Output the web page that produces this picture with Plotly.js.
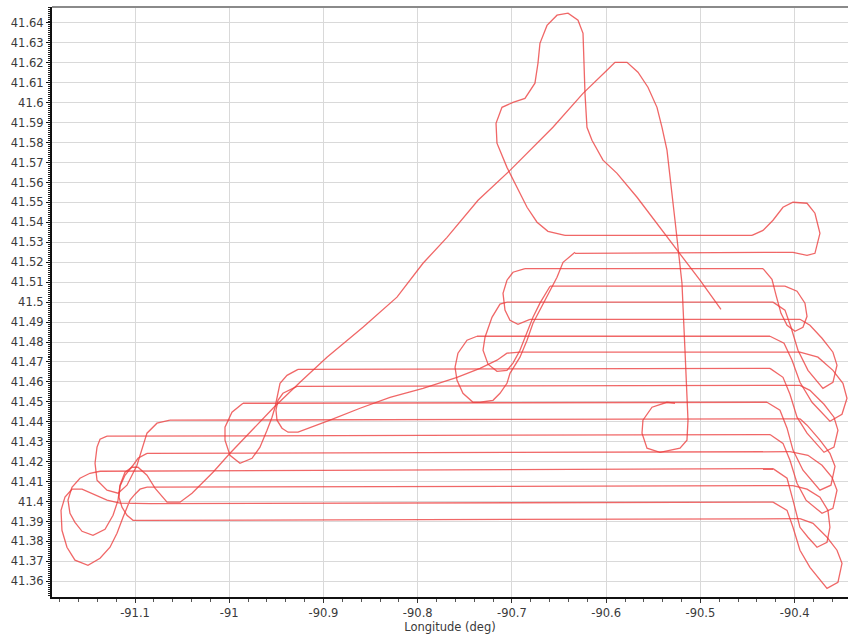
<!DOCTYPE html>
<html>
<head>
<meta charset="utf-8">
<script src="https://cdn.plot.ly/plotly-3.0.1.min.js"></script>
<style>html,body{margin:0;padding:0;background:#fff;}#chart{width:848px;height:637px;}</style>
</head>
<body>
<div id="chart"></div>
<script>
// Survey lines (latitude at west / east end, longitude at west / east end)
const lineLatW = [41.5335,41.5245,41.5168,41.5080,41.5000,41.4914,41.4829,41.4749,41.4663,41.4578,41.4493,41.4408,41.4328,41.4242,41.4152,41.4072,41.3990,41.3906];
const lineLatE = [41.5335,41.5250,41.5168,41.5080,41.5000,41.4914,41.4829,41.4749,41.4668,41.4583,41.4498,41.4415,41.4336,41.4250,41.4165,41.4080,41.3997,41.3914];
const lineLonW = [-90.6437,-90.6331,-90.6862,-90.6596,-90.7053,-90.6809,-90.7371,-90.6915,-90.9270,-90.9281,-90.9854,-91.0629,-91.1297,-91.0873,-91.1371,-91.0873,-91.0841,-91.0894];
const lineLonE = [-90.4453,-90.4188,-90.4336,-90.4103,-90.4230,-90.3944,-90.4262,-90.3944,-90.4262,-90.3944,-90.4294,-90.3944,-90.4262,-90.4050,-90.4230,-90.4018,-90.4230,-90.3944];

// Turns at the east end
const turnR1 = [[-90.4453,41.5335],[-90.4336,41.5360],[-90.4230,41.5411],[-90.4124,41.5476],[-90.4018,41.5501],[-90.3869,41.5496],[-90.3785,41.5446],[-90.3732,41.5345],[-90.3785,41.5245],[-90.3869,41.5235],[-90.4018,41.5250],[-90.4188,41.5250]];
const turnR2 = [[-90.4336,41.5168],[-90.4241,41.5115],[-90.4198,41.5035],[-90.4145,41.4944],[-90.4081,41.4884],[-90.3997,41.4854],[-90.3912,41.4874],[-90.3869,41.4929],[-90.3891,41.4995],[-90.3975,41.5055],[-90.4103,41.5080]];
const turnR3 = [[-90.4230,41.5000],[-90.4103,41.4960],[-90.4039,41.4874],[-90.3965,41.4759],[-90.3859,41.4658],[-90.3700,41.4568],[-90.3594,41.4598],[-90.3551,41.4684],[-90.3594,41.4749],[-90.3710,41.4819],[-90.3838,41.4884],[-90.3944,41.4914]];
const turnR4 = [[-90.4262,41.4829],[-90.4113,41.4794],[-90.4028,41.4709],[-90.3944,41.4598],[-90.3816,41.4498],[-90.3626,41.4403],[-90.3498,41.4438],[-90.3445,41.4518],[-90.3488,41.4593],[-90.3594,41.4658],[-90.3753,41.4724],[-90.3944,41.4749]];
const turnR5 = [[-90.4262,41.4668],[-90.4124,41.4623],[-90.4050,41.4538],[-90.3975,41.4423],[-90.3869,41.4343],[-90.3689,41.4247],[-90.3583,41.4273],[-90.3541,41.4358],[-90.3583,41.4423],[-90.3689,41.4488],[-90.3838,41.4558],[-90.3944,41.4583]];
const turnR6 = [[-90.4294,41.4498],[-90.4156,41.4458],[-90.4081,41.4368],[-90.4018,41.4258],[-90.3912,41.4157],[-90.3732,41.4057],[-90.3615,41.4082],[-90.3572,41.4177],[-90.3626,41.4242],[-90.3732,41.4308],[-90.3869,41.4383],[-90.3944,41.4415]];
const turnR7 = [[-90.4262,41.4336],[-90.4124,41.4292],[-90.4050,41.4207],[-90.3975,41.4092],[-90.3880,41.4007],[-90.3710,41.3941],[-90.3594,41.3966],[-90.3551,41.4057],[-90.3604,41.4122],[-90.3710,41.4182],[-90.3859,41.4232],[-90.4050,41.4250]];
const turnR8 = [[-90.4230,41.4165],[-90.4081,41.4117],[-90.4018,41.4007],[-90.3944,41.3871],[-90.3859,41.3821],[-90.3763,41.3771],[-90.3657,41.3796],[-90.3626,41.3871],[-90.3647,41.3956],[-90.3732,41.4022],[-90.3869,41.4062],[-90.4018,41.4080]];
const turnR9 = [[-90.4230,41.3997],[-90.4081,41.3956],[-90.4018,41.3871],[-90.3944,41.3756],[-90.3838,41.3670],[-90.3657,41.3565],[-90.3541,41.3595],[-90.3498,41.3690],[-90.3551,41.3756],[-90.3657,41.3821],[-90.3805,41.3891],[-90.3944,41.3914]];

// Turns at the west end
const turnTop = [[-90.6437,41.5335],[-90.6618,41.5355],[-90.6734,41.5401],[-90.6840,41.5476],[-90.6915,41.5546],[-90.7053,41.5676],[-90.7159,41.5797],[-90.7169,41.5897],[-90.7106,41.5977],[-90.6989,41.6002],[-90.6862,41.6022],[-90.6756,41.6098],[-90.6724,41.6198],[-90.6703,41.6298],[-90.6628,41.6388],[-90.6522,41.6439],[-90.6405,41.6449],[-90.6299,41.6414],[-90.6246,41.6348],[-90.6236,41.6178],[-90.6225,41.6047],[-90.6204,41.5877],[-90.6151,41.5812],[-90.6034,41.5712],[-90.5885,41.5646],[-90.5673,41.5526],[-90.5429,41.5375],[-90.5238,41.5260],[-90.5005,41.5110],[-90.4782,41.4964]];
const turnM1 = [[-90.9854,41.4493],[-90.9971,41.4448],[-91.0045,41.4373],[-91.0045,41.4308],[-90.9992,41.4232],[-90.9886,41.4192],[-90.9758,41.4217],[-90.9674,41.4273],[-90.9599,41.4358],[-90.9546,41.4423],[-90.9514,41.4473],[-90.9493,41.4523],[-90.9461,41.4593],[-90.9387,41.4633],[-90.9270,41.4663]];
const turnM2 = [[-90.9281,41.4578],[-90.9430,41.4543],[-90.9483,41.4508],[-90.9504,41.4458],[-90.9493,41.4408],[-90.9440,41.4368],[-90.9376,41.4348],[-90.9270,41.4348],[-90.8931,41.4408],[-90.8612,41.4468],[-90.8294,41.4523],[-90.7944,41.4568],[-90.7583,41.4623],[-90.7339,41.4668],[-90.7159,41.4709],[-90.7053,41.4744],[-90.6915,41.4749]];
const turnM3 = [[-90.6331,41.5250],[-90.6458,41.5200],[-90.6522,41.5125],[-90.6596,41.5060],[-90.6703,41.4960],[-90.6777,41.4894],[-90.6840,41.4809],[-90.6915,41.4724],[-90.7021,41.4643],[-90.7053,41.4593],[-90.7127,41.4543],[-90.7201,41.4508],[-90.7339,41.4498],[-90.7413,41.4498],[-90.7520,41.4543],[-90.7583,41.4608],[-90.7604,41.4673],[-90.7573,41.4744],[-90.7477,41.4809],[-90.7371,41.4829]];
const turnM4 = [[-90.6596,41.5080],[-90.6703,41.4995],[-90.6777,41.4924],[-90.6840,41.4844],[-90.6915,41.4759],[-90.6989,41.4694],[-90.7053,41.4658],[-90.7159,41.4653],[-90.7254,41.4689],[-90.7307,41.4759],[-90.7286,41.4824],[-90.7212,41.4924],[-90.7127,41.4990],[-90.7053,41.5000]];
const turnM5 = [[-90.6862,41.5168],[-90.6989,41.5150],[-90.7053,41.5110],[-90.7095,41.5045],[-90.7074,41.4960],[-90.7021,41.4909],[-90.6936,41.4889],[-90.6809,41.4914]];
const turnLL1 = [[-91.1297,41.4328],[-91.1371,41.4313],[-91.1403,41.4273],[-91.1424,41.4192],[-91.1403,41.4107],[-91.1297,41.4057],[-91.1180,41.4042],[-91.1085,41.4082],[-91.0979,41.4182],[-91.0873,41.4343],[-91.0767,41.4393],[-91.0629,41.4408]];
const turnLL3 = [[-91.0841,41.3990],[-91.1021,41.3992],[-91.1159,41.3992],[-91.1297,41.4007],[-91.1446,41.4037],[-91.1562,41.4062],[-91.1669,41.4062],[-91.1743,41.4022],[-91.1785,41.3956],[-91.1775,41.3856],[-91.1722,41.3771],[-91.1637,41.3706],[-91.1499,41.3680],[-91.1371,41.3716],[-91.1265,41.3771],[-91.1191,41.3841],[-91.1127,41.3921],[-91.1053,41.4007],[-91.1000,41.4037],[-91.0947,41.4062],[-91.0873,41.4072]];
const turnLL4 = [[-91.0873,41.4242],[-91.0968,41.4217],[-91.1021,41.4182],[-91.1106,41.4132],[-91.1159,41.4077],[-91.1170,41.4022],[-91.1138,41.3972],[-91.1085,41.3931],[-91.1021,41.3906],[-91.0894,41.3906]];

// Loop from the west end of line 14 and the long transit leg
const transit = [[-91.1371,41.4152],[-91.1478,41.4142],[-91.1584,41.4117],[-91.1669,41.4072],[-91.1711,41.4007],[-91.1690,41.3941],[-91.1637,41.3896],[-91.1562,41.3851],[-91.1446,41.3831],[-91.1318,41.3861],[-91.1233,41.3931],[-91.1180,41.4007],[-91.1159,41.4082],[-91.1106,41.4147],[-91.1032,41.4172],[-91.0968,41.4172],[-91.0873,41.4132],[-91.0788,41.4067],[-91.0660,41.3997],[-91.0522,41.3997],
 [-91.0395,41.4042],[-91.0172,41.4147],[-90.9992,41.4242],[-90.9780,41.4348],[-90.9536,41.4468],[-90.9249,41.4598],[-90.8963,41.4724],[-90.8581,41.4874],[-90.8220,41.5025],[-90.7944,41.5195],[-90.7689,41.5325],[-90.7360,41.5511],[-90.7021,41.5661],[-90.6565,41.5877],[-90.6246,41.6047],[-90.5992,41.6163],[-90.5907,41.6203],[-90.5779,41.6203],[-90.5663,41.6153],[-90.5557,41.6078],[-90.5461,41.5977],[-90.5408,41.5877],[-90.5355,41.5762],[-90.5270,41.5411],[-90.5238,41.5260],[-90.5196,41.5095],[-90.5164,41.4759],[-90.5132,41.4408],[-90.5143,41.4308],[-90.5217,41.4268],[-90.5429,41.4247],[-90.5567,41.4268],[-90.5620,41.4343],[-90.5610,41.4408],[-90.5514,41.4473],[-90.5355,41.4498],[-90.5270,41.4493]];

const xTickVals = [-91.1,-91.0,-90.9,-90.8,-90.7,-90.6,-90.5,-90.4];
const xTickText = ['-91.1','-91','-90.9','-90.8','-90.7','-90.6','-90.5','-90.4'];
const yTickVals = [41.36,41.37,41.38,41.39,41.40,41.41,41.42,41.43,41.44,41.45,41.46,41.47,41.48,41.49,41.50,41.51,41.52,41.53,41.54,41.55,41.56,41.57,41.58,41.59,41.60,41.61,41.62,41.63,41.64];
const yTickText = ['41.36','41.37','41.38','41.39','41.4','41.41','41.42','41.43','41.44','41.45','41.46','41.47','41.48','41.49','41.5','41.51','41.52','41.53','41.54','41.55','41.56','41.57','41.58','41.59','41.6','41.61','41.62','41.63','41.64'];

const xs = [], ys = [];
for (let i = 0; i < lineLatW.length; i++) {
  xs.push(lineLonW[i], lineLonE[i], null);
  ys.push(lineLatW[i], lineLatE[i], null);
}
[turnR1,turnR2,turnR3,turnR4,turnR5,turnR6,turnR7,turnR8,turnR9,turnTop,turnM1,turnM2,turnM3,turnM4,turnM5,turnLL1,turnLL3,turnLL4,transit].forEach(seg => {
  seg.forEach(p => { xs.push(p[0]); ys.push(p[1]); });
  xs.push(null); ys.push(null);
});

const font = {family: 'DejaVu Sans, Verdana, sans-serif', size: 11.5, color: '#3a3a3a'};
const data = [{
  type: 'scatter', mode: 'lines', x: xs, y: ys, connectgaps: false,
  line: {color: 'rgba(236,60,60,0.78)', width: 1.3}, hoverinfo: 'skip'
}];
const layout = {
  width: 848, height: 637,
  margin: {l: 52, r: 0, t: 7, b: 40, pad: 0},
  paper_bgcolor: '#fff', plot_bgcolor: '#fff',
  showlegend: false, font: font,
  xaxis: {
    range: [-91.18807, -90.34342], tickmode: 'array', tickvals: xTickVals, ticktext: xTickText,
    showgrid: true, gridcolor: '#d9d9d9', gridwidth: 1, zeroline: false,
    showline: true, linecolor: '#111', linewidth: 2,
    ticks: 'outside', ticklen: 4, tickcolor: '#333', tickwidth: 1,
    minor: {dtick: 0.02, tick0: -91.1, ticks: 'outside', ticklen: 3, tickcolor: '#555', showgrid: false},
    title: {text: 'Longitude (deg)', font: font, standoff: 4},
    tickfont: font, fixedrange: true
  },
  yaxis: {
    range: [41.35214, 41.64802], tickmode: 'array', tickvals: yTickVals, ticktext: yTickText,
    showgrid: true, gridcolor: '#d9d9d9', gridwidth: 1, zeroline: false,
    showline: true, linecolor: '#111', linewidth: 2,
    ticks: 'outside', ticklen: 4, tickcolor: '#111', tickwidth: 1,
    minor: {dtick: 0.001, tick0: 41.36, ticks: 'outside', ticklen: 2, tickcolor: '#222', showgrid: false},
    tickfont: font, fixedrange: true
  },
  shapes: [{type: 'line', xref: 'paper', yref: 'paper', x0: 0, x1: 1, y0: 1, y1: 1, line: {color: '#8a8a8a', width: 2}}]
};
Plotly.newPlot('chart', data, layout, {displayModeBar: false, staticPlot: true});
</script>
</body>
</html>
